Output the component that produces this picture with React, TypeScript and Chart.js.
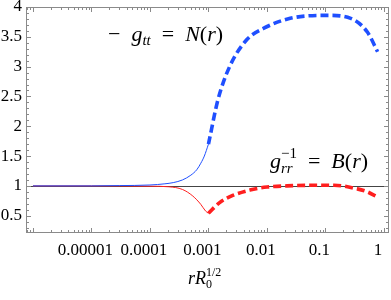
import { useEffect, useRef } from 'react';
import { Chart, registerables } from 'chart.js';

Chart.register(...registerables);

// ---- data ----
const X_TICKS = [1e-5, 1e-4, 1e-3, 0.01, 0.1, 1];
const X_TICK_LABELS = ['0.00001', '0.0001', '0.001', '0.01', '0.1', '1'];
const Y_TICKS = [0.5, 1, 1.5, 2, 2.5, 3, 3.5, 4];
const Y_TICK_LABELS = ['0.5', '1', '1.5', '2', '2.5', '3', '3.5', '4'];

const nSolidR = [1e-6, 1e-5, 3e-5, 1e-4, 1.8e-4, 2.5e-4, 3.6e-4, 5e-4, 6.3e-4, 7.4e-4, 8.5e-4, 1e-3];
const nSolidV = [1.0, 1.0, 1.005, 1.015, 1.035, 1.055, 1.1, 1.18, 1.27, 1.38, 1.5, 1.7];
const nDashR = [1e-3, 1.45e-3, 2.3e-3, 4.5e-3, 8.7e-3, 0.025, 0.107, 0.27, 0.52, 0.78];
const nDashV = [1.7, 2.44, 3.0, 3.45, 3.64, 3.81, 3.86, 3.81, 3.58, 3.25];

const bSolidR = [1e-6, 1e-5, 1e-4, 2.1e-4, 3.6e-4, 5.4e-4, 7.4e-4, 8.9e-4, 1e-3];
const bSolidV = [1.0, 1.0, 0.995, 0.985, 0.94, 0.83, 0.69, 0.58, 0.54];
const bDashR = [1e-3, 1.55e-3, 2.6e-3, 5.1e-3, 0.01, 0.022, 0.055, 0.14, 0.35, 0.52, 0.72];
const bDashV = [0.54, 0.72, 0.84, 0.93, 0.98, 1.0, 1.01, 1.01, 0.95, 0.9, 0.83];

const REF_LINE = 1;

const BLUE = '#1f4fff';
const RED = '#ff1f1f';
const FRAME = '#8a8a8a';
const SERIF = '"Liberation Serif", "DejaVu Serif", serif';

type Seg = { t: string; it?: boolean; s?: number; dy?: number; back?: boolean };

function drawRich(ctx: CanvasRenderingContext2D, x: number, y: number, segs: Seg[], base: number) {
  let cx = x;
  let prevStart = x;
  let prevEnd = x;
  for (const sg of segs) {
    const size = sg.s ?? base;
    ctx.font = `${sg.it ? 'italic ' : ''}${size}px ${SERIF}`;
    const start = sg.back ? prevStart : cx;
    ctx.fillText(sg.t, start, y + (sg.dy ?? 0));
    const end = start + ctx.measureText(sg.t).width;
    if (sg.back) {
      cx = Math.max(prevEnd, end);
    } else {
      prevStart = start;
      prevEnd = end;
      cx = end;
    }
  }
}

const pairs = (r: number[], v: number[]) => r.map((x, i) => ({ x, y: v[i] }));

const framePlugin = {
  id: 'frame',
  beforeDatasetsDraw(chart: any) {
    const { ctx, chartArea: a, scales } = chart;
    const py = Math.round(scales.y.getPixelForValue(REF_LINE)) + 0.5;
    ctx.save();
    ctx.strokeStyle = '#444';
    ctx.lineWidth = 1;
    ctx.beginPath();
    ctx.moveTo(a.left, py);
    ctx.lineTo(a.right, py);
    ctx.stroke();
    ctx.restore();
  },
  afterDraw(chart: any) {
    const { ctx, chartArea: a, scales } = chart;
    const xs = scales.x;
    const ys = scales.y;
    ctx.save();
    ctx.strokeStyle = FRAME;
    ctx.lineWidth = 1;
    ctx.strokeRect(Math.round(a.left) + 0.5, Math.round(a.top) + 0.5, Math.round(a.right - a.left) - 1, Math.round(a.bottom - a.top) - 1);
    ctx.beginPath();
    for (let e = -7; e <= 0; e++) {
      for (let m = 1; m <= 9; m++) {
        const v = m * Math.pow(10, e);
        if (v < xs.min || v > xs.max) continue;
        const px = Math.round(xs.getPixelForValue(v)) + 0.5;
        const len = m === 1 ? 5 : 3;
        ctx.moveTo(px, a.bottom);
        ctx.lineTo(px, a.bottom - len);
        ctx.moveTo(px, a.top);
        ctx.lineTo(px, a.top + len);
      }
    }
    for (let k = 3; k <= 40; k++) {
      const v = k / 10;
      if (v < ys.min || v > ys.max) continue;
      const pyy = Math.round(ys.getPixelForValue(v)) + 0.5;
      const len = k % 5 === 0 ? 5 : 3;
      ctx.moveTo(a.left, pyy);
      ctx.lineTo(a.left + len, pyy);
      ctx.moveTo(a.right, pyy);
      ctx.lineTo(a.right - len, pyy);
    }
    ctx.stroke();

    ctx.fillStyle = '#000';
    ctx.textBaseline = 'alphabetic';
    ctx.textAlign = 'left';
    drawRich(ctx, 108, 41, [
      { t: '−' },
      { t: '  ' },
      { t: 'g', it: true },
      { t: 'tt', it: true, s: 15, dy: 4 },
      { t: '  =  ' },
      { t: 'N', it: true },
      { t: '(' },
      { t: 'r', it: true },
      { t: ')' },
    ], 22);
    drawRich(ctx, 270, 168, [
      { t: 'g', it: true },
      { t: 'rr', it: true, s: 15, dy: 5 },
      { t: '−1', s: 15, dy: -10, back: true },
      { t: '  =  ' },
      { t: 'B', it: true },
      { t: '(' },
      { t: 'r', it: true },
      { t: ')' },
    ], 22);
    drawRich(ctx, 188, 284, [
      { t: 'r', it: true },
      { t: 'R', it: true },
      { t: '0', s: 12, dy: 4 },
      { t: '1/2', s: 12, dy: -8, back: true },
    ], 18);
    ctx.restore();
  },
};

export default function App() {
  const ref = useRef<HTMLCanvasElement>(null);
  useEffect(() => {
    document.body.style.margin = '0';
    const canvas = ref.current!;
    const chart = new Chart(canvas, {
      type: 'line',
      data: {
        datasets: [
          { data: pairs(nSolidR, nSolidV), borderColor: BLUE, borderWidth: 1, pointRadius: 0, cubicInterpolationMode: 'monotone', fill: false },
          { data: pairs(nDashR, nDashV), borderColor: BLUE, borderWidth: 3.6, borderDash: [8, 4], borderCapStyle: 'butt', pointRadius: 0, cubicInterpolationMode: 'monotone', fill: false },
          { data: pairs(bSolidR, bSolidV), borderColor: RED, borderWidth: 1, pointRadius: 0, cubicInterpolationMode: 'monotone', fill: false },
          { data: pairs(bDashR, bDashV), borderColor: RED, borderWidth: 3.6, borderDash: [8, 4], borderCapStyle: 'butt', pointRadius: 0, cubicInterpolationMode: 'monotone', fill: false },
        ],
      } as any,
      options: {
        animation: false,
        responsive: false,
        devicePixelRatio: 1,
        layout: { padding: { top: 7, right: 2, left: 0, bottom: 0 } },
        plugins: { legend: { display: false }, tooltip: { enabled: false } },
        scales: {
          x: {
            type: 'logarithmic',
            min: 7.6e-7,
            max: 1.22,
            grid: { display: false, drawTicks: false },
            border: { display: false },
            afterBuildTicks: (s: any) => { s.ticks = X_TICKS.map((value) => ({ value })); },
            afterFit: (s: any) => { s.height = 67; s.paddingLeft = 0; s.paddingRight = 0; },
            ticks: {
              autoSkip: false,
              maxRotation: 0,
              padding: 7,
              labelOffset: -6,
              color: '#000',
              font: { family: SERIF, size: 17 },
              callback: (_v: any, i: number) => X_TICK_LABELS[i],
            },
          },
          y: {
            type: 'linear',
            min: 0.21,
            max: 4,
            grid: { display: false, drawTicks: false },
            border: { display: false },
            afterBuildTicks: (s: any) => { s.ticks = Y_TICKS.map((value) => ({ value })); },
            afterFit: (s: any) => { s.width = 26; s.paddingTop = 0; s.paddingBottom = 0; },
            ticks: {
              padding: 4,
              color: '#000',
              font: { family: SERIF, size: 17 },
              callback: (_v: any, i: number) => Y_TICK_LABELS[i],
            },
          },
        },
      } as any,
      plugins: [framePlugin],
    });
    return () => chart.destroy();
  }, []);
  return (
    <div style={{ width: 391, height: 300 }}>
      <canvas ref={ref} width={391} height={300} style={{ width: 391, height: 300, display: 'block' }} />
    </div>
  );
}
